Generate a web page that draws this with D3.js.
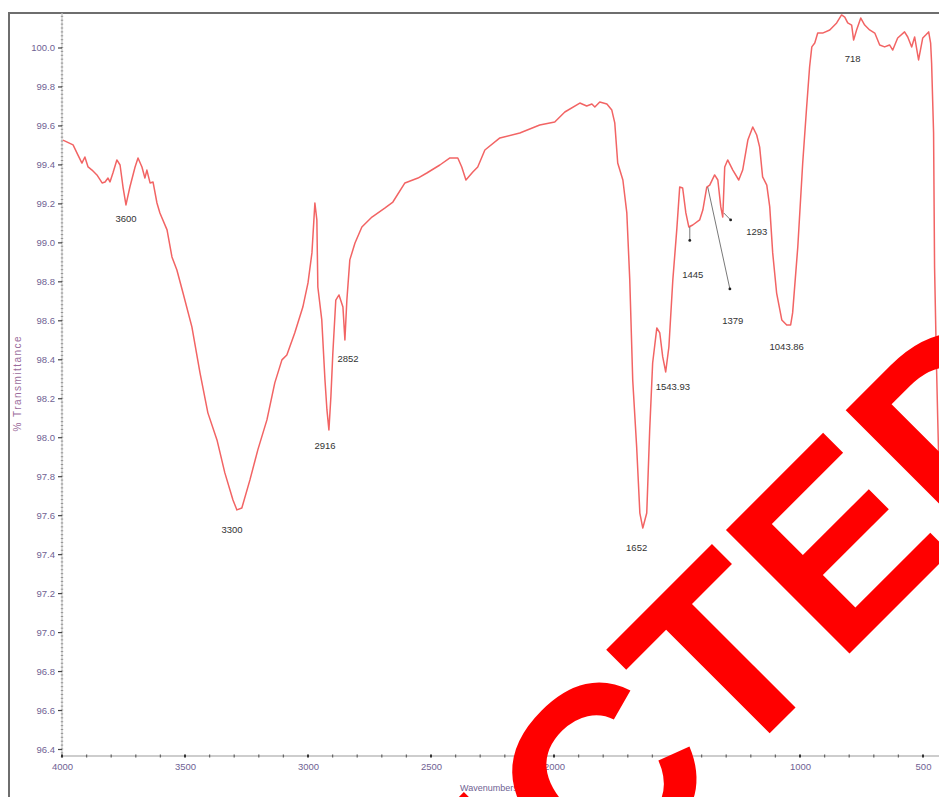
<!DOCTYPE html>
<html>
<head>
<meta charset="utf-8">
<script src="https://cdnjs.cloudflare.com/ajax/libs/d3/7.8.5/d3.min.js"></script>
<style>
  body { margin: 0; background: #fff; }
  svg { display: block; font-family: "Liberation Sans", Arial, sans-serif; }
</style>
</head>
<body>
<svg id="chart" width="939" height="797"></svg>
<script>
// FTIR spectrum: wavenumber (cm-1) and % transmittance
const wavenumber = [3996,3955,3935,3919,3907,3894,3878,3858,3837,3825,3813,3805,3793,3777,3764,3752,3740,3724,3703,3691,
  3675,3663,3655,3642,3630,3614,3602,3573,3553,3533,3508,3472,3439,3407,3370,3338,3305,3289,3269,3236,
  3204,3167,3135,3106,3086,3054,3021,3000,2984,2972,2964,2960,2944,2931,2923,2915,2907,2899,2887,2874,
  2858,2850,2842,2830,2809,2781,2740,2688,2655,2606,2553,2517,2464,2423,2391,2375,2358,2330,2310,2281,
  2220,2139,2058,1997,1956,1895,1867,1846,1834,1814,1785,1765,1753,1741,1720,1704,1692,1680,1664,1651,
  1639,1623,1611,1599,1582,1570,1558,1546,1533,1517,1501,1489,1477,1464,1452,1436,1408,1395,1379,1367,
  1347,1334,1322,1314,1306,1294,1273,1249,1233,1212,1192,1176,1164,1152,1135,1123,1111,1095,1074,1054,
  1038,1030,1009,989,973,961,952,940,928,908,879,851,831,818,806,790,782,770,753,737,
  717,696,676,656,636,623,603,575,562,546,534,518,501,489,477,469,465,457,453,445,440,432];
const transmittance = [99.525,99.500,99.448,99.407,99.438,99.387,99.371,99.346,99.305,99.310,99.330,99.310,99.356,99.423,99.397,99.284,99.192,99.284,99.387,99.433,
  99.387,99.330,99.371,99.305,99.310,99.202,99.151,99.064,98.925,98.858,98.740,98.566,98.330,98.125,97.986,97.817,97.678,97.627,97.637,97.781,
  97.935,98.089,98.279,98.397,98.422,98.535,98.668,98.792,98.946,99.202,99.115,98.771,98.602,98.294,98.140,98.037,98.207,98.432,98.704,98.730,
  98.668,98.499,98.704,98.910,98.997,99.079,99.130,99.176,99.207,99.305,99.330,99.356,99.397,99.433,99.433,99.387,99.320,99.361,99.387,99.474,
  99.536,99.561,99.602,99.618,99.669,99.715,99.700,99.710,99.695,99.720,99.710,99.679,99.613,99.407,99.320,99.151,98.807,98.294,97.950,97.611,
  97.534,97.611,98.037,98.381,98.561,98.535,98.412,98.335,98.463,98.807,99.064,99.284,99.279,99.151,99.079,99.089,99.115,99.166,99.284,99.294,
  99.346,99.320,99.182,99.130,99.387,99.423,99.371,99.320,99.371,99.525,99.592,99.551,99.489,99.336,99.294,99.182,98.946,98.740,98.602,98.576,
  98.576,98.638,98.976,99.407,99.695,99.900,100.003,100.023,100.074,100.074,100.090,100.126,100.167,100.156,100.126,100.115,100.038,100.090,100.151,100.115,
  100.090,100.074,100.013,100.003,100.013,99.987,100.049,100.080,100.054,100.003,100.054,99.936,100.049,100.064,100.080,100.023,99.920,99.561,98.874,98.361,98.088,97.678];

const yTicks = [96.4,96.6,96.8,97.0,97.2,97.4,97.6,97.8,98.0,98.2,98.4,98.6,98.8,99.0,99.2,99.4,99.6,99.8,100.0];
const xTicks = [4000,3500,3000,2500,2000,1500,1000,500];

// peak annotations: text, label position (wavenumber, %T)
const peakText = ["3600","3300","2916","2852","1652","1543.93","1445","1379","1293","1043.86","718"];
const peakWn   = [3740,3309,2931,2837,1664,1517,1436,1273,1176,1054,786];
const peakT    = [99.120,97.524,97.955,98.402,97.432,98.258,98.833,98.597,99.058,98.468,99.941];

// leader arrows: from (wn, %T) to (wn, %T)
const arrowFromWn = [1448,1375,1310];
const arrowFromT  = [99.079,99.284,99.151];
const arrowToWn   = [1448,1285,1282];
const arrowToT    = [99.010,98.761,99.115];

const stampText = "REJECTED";

const svg = d3.select("#chart");
const W = 939, H = 797;

const x = d3.scaleLinear().domain([4000, 500]).range([62, 923]);
const y = d3.scaleLinear().domain([96.4, 100.0]).range([749, 47.5]);
const axisY = 756, topY = 13;

const tickColor = "#6f6293";

// frame
svg.append("path")
  .attr("d", `M9,${H} V${topY} H${W}`)
  .attr("fill", "none").attr("stroke", "#6e6e6e").attr("stroke-width", 2);

// y axis
const gy = svg.append("g").attr("transform", "translate(62,0)");
gy.append("line").attr("y1", topY).attr("y2", axisY)
  .attr("stroke", "#c4c4c4").attr("stroke-width", 1.2);
gy.selectAll(".minor").data(d3.range(96.36, 100.17, 0.02))
  .enter().append("line")
  .attr("x1", -1.2).attr("x2", 1.2)
  .attr("y1", d => y(d)).attr("y2", d => y(d))
  .attr("stroke", "#8a8a8a").attr("stroke-width", 0.9);
gy.append("g")
  .call(d3.axisLeft(y).tickValues(yTicks).tickSize(4).tickPadding(3).tickFormat(d3.format(".1f")))
  .call(g => g.select(".domain").remove())
  .call(g => g.selectAll(".tick line").attr("stroke", "#444").attr("stroke-width", 1.2))
  .call(g => g.selectAll(".tick text").attr("fill", tickColor).attr("font-size", 9.5)
    .attr("font-family", "Liberation Sans, Arial, sans-serif"));

// x axis
const gx = svg.append("g").attr("transform", `translate(0,${axisY})`);
gx.append("line").attr("x1", 62).attr("x2", W)
  .attr("stroke", "#bdbdbd").attr("stroke-width", 1.6);
gx.selectAll(".minor").data(d3.range(4000, 399, -100))
  .enter().append("line")
  .attr("x1", d => x(d)).attr("x2", d => x(d))
  .attr("y1", -1.5).attr("y2", 1.5)
  .attr("stroke", d => d % 500 === 0 ? "#333" : "#666")
  .attr("stroke-width", d => d % 500 === 0 ? 2 : 1.3);
gx.append("g")
  .call(d3.axisBottom(x).tickValues(xTicks).tickSize(0).tickPadding(7.5).tickFormat(d3.format("d")))
  .call(g => g.select(".domain").remove())
  .call(g => g.selectAll(".tick text").attr("fill", tickColor).attr("font-size", 9.5)
    .attr("font-family", "Liberation Sans, Arial, sans-serif"));

// axis titles
svg.append("text")
  .attr("transform", "translate(21,384) rotate(-90)")
  .attr("text-anchor", "middle")
  .attr("fill", "#9b6b9b").attr("font-size", 10)
  .attr("textLength", 95).attr("lengthAdjust", "spacing")
  .text("% Transmittance");
svg.append("text")
  .attr("x", 460).attr("y", 791)
  .attr("fill", tickColor).attr("font-size", 9)
  .text("Wavenumbers");

// spectrum
const pts = wavenumber.map((w, i) => [w, transmittance[i]]);
const line = d3.line().x(d => x(d[0])).y(d => y(d[1]));
svg.append("path")
  .datum(pts)
  .attr("d", line)
  .attr("fill", "none")
  .attr("stroke", "#f26464")
  .attr("stroke-width", 1.5)
  .attr("stroke-linejoin", "round");

// peak labels
svg.append("g").selectAll("text").data(peakText)
  .enter().append("text")
  .attr("x", (d, i) => x(peakWn[i]))
  .attr("y", (d, i) => y(peakT[i]))
  .attr("text-anchor", "middle")
  .attr("dominant-baseline", "central")
  .attr("fill", "#333").attr("font-size", 9.5)
  .text(d => d);

// leader arrows
const ga = svg.append("g");
arrowFromWn.forEach((w, i) => {
  ga.append("line")
    .attr("x1", x(w)).attr("y1", y(arrowFromT[i]))
    .attr("x2", x(arrowToWn[i])).attr("y2", y(arrowToT[i]))
    .attr("stroke", "#555").attr("stroke-width", 0.8);
  ga.append("circle")
    .attr("cx", x(arrowToWn[i])).attr("cy", y(arrowToT[i]))
    .attr("r", 1.4).attr("fill", "#222");
});

// stamp
svg.append("text")
  .attr("transform", "translate(608,895) rotate(-45)")
  .attr("text-anchor", "middle")
  .attr("font-family", "Liberation Sans, Arial, sans-serif")
  .attr("font-weight", "bold")
  .attr("font-size", 254)
  .attr("fill", "#ff0000")
  .text(stampText);
</script>
</body>
</html>
